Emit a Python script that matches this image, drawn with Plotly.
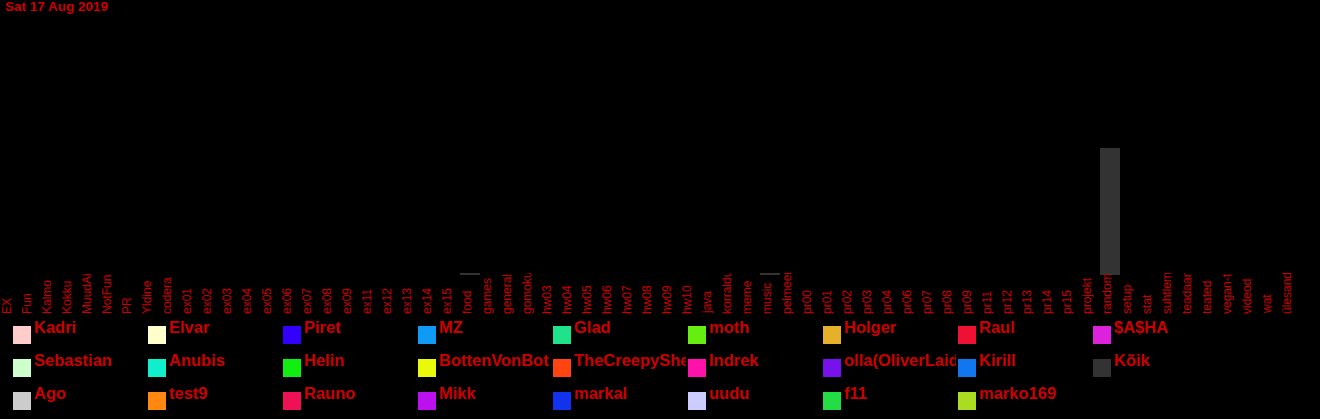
import plotly.graph_objects as go

# ---- data ----
title_text = "Sat 17 Aug 2019"

categories = ["EX", "Fun", "Kalmo", "Kokku", "MuudAi", "NotFun", "PR", "Yldine", "codera",
              "ex01", "ex02", "ex03", "ex04", "ex05", "ex06", "ex07", "ex08", "ex09",
              "ex11", "ex12", "ex13", "ex14", "ex15", "food", "games", "general", "gomoku",
              "hw03", "hw04", "hw05", "hw06", "hw07", "hw08", "hw09", "hw10", "java",
              "korraldus", "meme", "music", "pelmeen", "pr00", "pr01", "pr02", "pr03", "pr04",
              "pr06", "pr07", "pr08", "pr09", "pr11", "pr12", "pr13", "pr14", "pr15",
              "projekt", "random", "setup", "stat", "suhtlemine", "teadaanded", "teated",
              "vegan-t", "videod", "wat", "ülesanded"]

# message counts for the "Kõik" (all) series, one per category
koik_values = [0, 0, 0, 0, 0, 0, 0, 0, 0,
               0, 0, 0, 0, 0, 0, 0, 0, 0,
               0, 0, 0, 0, 0, 1, 0, 0, 0,
               0, 0, 0, 0, 0, 0, 0, 0, 0,
               0, 0, 1, 0, 0, 0, 0, 0, 0,
               0, 0, 0, 0, 0, 0, 0, 0, 0,
               0, 80, 0, 0, 0, 0, 0,
               0, 0, 0, 0]

series_names = ["Kadri", "Elvar", "Piret", "MZ", "Glad", "moth", "Holger", "Raul", "$A$HA",
                "Sebastian", "Anubis", "Helin", "BottenVonBot", "TheCreepyShe", "Indrek",
                "olla(OliverLaid)", "Kirill", "Kõik",
                "Ago", "test9", "Rauno", "Mikk", "markal", "uudu", "f11", "marko169"]

series_colors = ["#ffcccc", "#ffffcc", "#3300ff", "#0f9bf5", "#1ee38a", "#66ee11", "#e6b12a", "#ee1133", "#dd22dd",
                 "#ccffcc", "#11eecc", "#11ee11", "#e8fa0a", "#ff4411", "#ff11aa", "#7711ee", "#1177ee", "#333333",
                 "#cccccc", "#ff8811", "#ee1155", "#bb11ee", "#1133ee", "#ccccff", "#22dd44", "#aadd22"]

# ---- figure geometry ----
W, H = 1320, 419
ML, MR, MT, MB = 0, 20, 20, 144
PW, PH = W - ML - MR, H - MT - MB
RED = "#cc0000"
FONT = "Liberation Sans, Arial, sans-serif"


def px_x(px):
    return (px - ML) / PW


def px_y(py):
    return (H - MB - py) / PH


fig = go.Figure()
for name, color in zip(series_names, series_colors):
    if name == "Kõik":
        fig.add_trace(go.Bar(x=categories, y=koik_values, name=name,
                             marker=dict(color=color, line=dict(width=0)),
                             showlegend=False, hoverinfo="x+y+name"))

annotations = []
# title
annotations.append(dict(text="<b>" + title_text + "</b>", x=px_x(4), y=px_y(7),
                        xref="paper", yref="paper", xanchor="left", yanchor="middle",
                        borderpad=0, showarrow=False,
                        font=dict(family=FONT, size=13.5, color=RED)))

# category labels (rotated, clipped to the band below the axis)
for cat in categories:
    annotations.append(dict(text=cat, x=cat, xref="x", y=0, yref="paper",
                            xanchor="center", yanchor="top", textangle=-90,
                            width=41, height=15, align="left", borderpad=0, borderwidth=0,
                            xshift=-3.5, yshift=2, showarrow=False,
                            font=dict(family=FONT, size=12, color=RED)))

# custom legend
shapes = []
for i, (name, color) in enumerate(zip(series_names, series_colors)):
    r, c = divmod(i, 9)
    x0 = 13 + 135 * c
    y0 = 326 + 33 * r
    shapes.append(dict(type="rect", xref="paper", yref="paper",
                       x0=px_x(x0), x1=px_x(x0 + 18), y0=px_y(y0 + 18), y1=px_y(y0),
                       fillcolor=color, line=dict(width=0), layer="above"))
    annotations.append(dict(text="<b>" + name + "</b>", x=px_x(x0 + 21), y=px_y(y0 + 1),
                            xref="paper", yref="paper", xanchor="left", yanchor="middle",
                            width=112, align="left", borderpad=0, borderwidth=0,
                            showarrow=False, font=dict(family=FONT, size=16.5, color=RED)))

fig.update_layout(
    width=W, height=H,
    margin=dict(l=ML, r=MR, t=MT, b=MB, pad=0),
    paper_bgcolor="black", plot_bgcolor="black",
    barmode="overlay", bargap=0,
    showlegend=False,
    xaxis=dict(type="category", range=[-0.5, len(categories) - 0.5], showticklabels=False,
               showgrid=False, zeroline=False, showline=False, ticks=""),
    yaxis=dict(range=[0, 160], showticklabels=False, showgrid=False, zeroline=False,
               showline=False, ticks=""),
    annotations=annotations,
    shapes=shapes,
)

fig.write_html("out.html", config={"displayModeBar": False},
               post_script="document.body.style.margin='0';document.body.style.background='black';")
